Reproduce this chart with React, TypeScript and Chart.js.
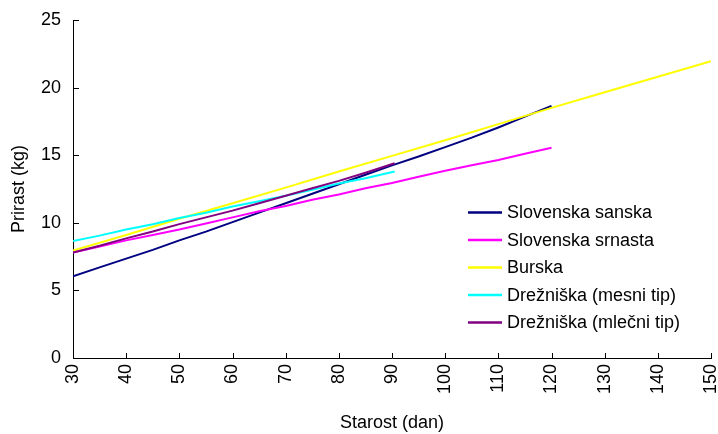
import React, { useEffect, useRef } from "react";
import { Chart, registerables } from "chart.js";

Chart.register(...registerables);

const ageA = [30, 35, 40, 45, 50, 55, 60, 65, 70, 75, 80, 85, 90, 95, 100, 105, 110, 115, 120];
const sanska = [6.05, 6.7, 7.35, 8.0, 8.7, 9.35, 10.05, 10.75, 11.45, 12.15, 12.85, 13.55, 14.25, 14.9, 15.6, 16.3, 17.05, 17.85, 18.65];
const srnasta = [7.8, 8.25, 8.7, 9.1, 9.5, 9.95, 10.4, 10.85, 11.25, 11.7, 12.1, 12.55, 12.95, 13.4, 13.85, 14.25, 14.65, 15.1, 15.55];
const ageB = [30, 40, 50, 60, 70, 80, 90, 100, 110, 120, 130, 140, 150];
const burska = [7.95, 9.1, 10.3, 11.45, 12.6, 13.8, 14.95, 16.1, 17.3, 18.5, 19.65, 20.8, 21.95];
const ageC = [30, 35, 40, 45, 50, 55, 60, 65, 70, 75, 80, 85, 90.5];
const mesni = [8.65, 9.05, 9.5, 9.9, 10.35, 10.75, 11.2, 11.6, 12.0, 12.45, 12.9, 13.3, 13.8];
const mlecni = [7.8, 8.3, 8.85, 9.35, 9.9, 10.4, 10.9, 11.45, 12.0, 12.55, 13.1, 13.7, 14.4];

const seriesNames = [
  "Slovenska sanska",
  "Slovenska srnasta",
  "Burska",
  "Drežniška (mesni tip)",
  "Drežniška (mlečni tip)",
];
const seriesColors = ["#000080", "#FF00FF", "#FFFF00", "#00FFFF", "#800080"];

const xTitle = "Starost (dan)";
const yTitle = "Prirast (kg)";

const FONT = "'Liberation Sans', Arial, sans-serif";

const toPoints = (xs: number[], ys: number[]) => xs.map((x, i) => ({ x, y: ys[i] }));

const innerTicks = {
  id: "innerTicks",
  afterDraw(chart: any) {
    const { ctx, chartArea, scales } = chart;
    ctx.save();
    ctx.strokeStyle = "#000";
    ctx.lineWidth = 1;
    const xs = scales.x;
    xs.ticks.forEach((t: any) => {
      const px = Math.round(xs.getPixelForValue(t.value)) + 0.5;
      ctx.beginPath();
      ctx.moveTo(px, chartArea.bottom);
      ctx.lineTo(px, chartArea.bottom - 5);
      ctx.stroke();
    });
    const ys = scales.y;
    ys.ticks.forEach((t: any) => {
      const py = Math.round(ys.getPixelForValue(t.value)) + 0.5;
      ctx.beginPath();
      ctx.moveTo(chartArea.left, py);
      ctx.lineTo(chartArea.left + 6, py);
      ctx.stroke();
    });
    ctx.restore();
  },
};

const insideLegend = {
  id: "insideLegend",
  afterDraw(chart: any) {
    const { ctx } = chart;
    const x0 = 468;
    const y0 = 212.5;
    const step = 27.5;
    ctx.save();
    ctx.font = `18px ${FONT}`;
    ctx.textBaseline = "middle";
    ctx.textAlign = "left";
    chart.data.datasets.forEach((ds: any, i: number) => {
      const y = y0 + i * step;
      ctx.strokeStyle = ds.borderColor;
      ctx.lineWidth = 2.5;
      ctx.beginPath();
      ctx.moveTo(x0, y);
      ctx.lineTo(x0 + 34, y);
      ctx.stroke();
      ctx.fillStyle = "#000";
      ctx.fillText(ds.label, x0 + 39, y + 1);
    });
    ctx.restore();
  },
};

export default function App() {
  const ref = useRef<HTMLCanvasElement>(null);

  useEffect(() => {
    if (!ref.current) return;
    const dataSets = [
      toPoints(ageA, sanska),
      toPoints(ageA, srnasta),
      toPoints(ageB, burska),
      toPoints(ageC, mesni),
      toPoints(ageC, mlecni),
    ];
    const chart = new Chart(ref.current, {
      type: "line",
      data: {
        datasets: dataSets.map((d, i) => ({
          label: seriesNames[i],
          data: d,
          borderColor: seriesColors[i],
          backgroundColor: seriesColors[i],
          borderWidth: 2,
          pointRadius: 0,
          tension: 0,
          fill: false,
          order: -i,
        })),
      },
      options: {
        responsive: false,
        animation: false,
        events: [],
        layout: { padding: { top: 20, right: 7, bottom: 0, left: 0 } },
        plugins: {
          legend: { display: false },
          tooltip: { enabled: false },
          title: { display: false },
        },
        scales: {
          x: {
            type: "linear",
            min: 30,
            max: 150,
            grid: { display: false, drawTicks: false },
            border: { display: true, color: "#000", width: 1 },
            ticks: {
              stepSize: 10,
              minRotation: 90,
              maxRotation: 90,
              padding: 6,
              color: "#000",
              font: { family: FONT, size: 18 },
            },
            title: {
              display: true,
              text: xTitle,
              color: "#000",
              font: { family: FONT, size: 18 },
              padding: { top: 0, bottom: 0 },
            },
            afterFit(scale: any) {
              scale.height = 76;
              scale.paddingLeft = 0;
              scale.paddingRight = 0;
            },
          },
          y: {
            type: "linear",
            min: 0,
            max: 25,
            grid: { display: false, drawTicks: false },
            border: { display: true, color: "#000", width: 1 },
            ticks: {
              stepSize: 5,
              padding: 12,
              color: "#000",
              font: { family: FONT, size: 18 },
            },
            title: {
              display: true,
              text: yTitle,
              color: "#000",
              font: { family: FONT, size: 18 },
              padding: { top: 8, bottom: 0 },
            },
            afterFit(scale: any) {
              scale.width = 73;
              scale.paddingTop = 0;
              scale.paddingBottom = 0;
            },
          },
        },
      },
      plugins: [innerTicks, insideLegend],
    });
    return () => chart.destroy();
  }, []);

  return (
    <div style={{ position: "absolute", left: 0, top: 0, width: 718, height: 434, background: "#fff" }}>
      <canvas ref={ref} width={718} height={434} style={{ display: "block" }} />
    </div>
  );
}
